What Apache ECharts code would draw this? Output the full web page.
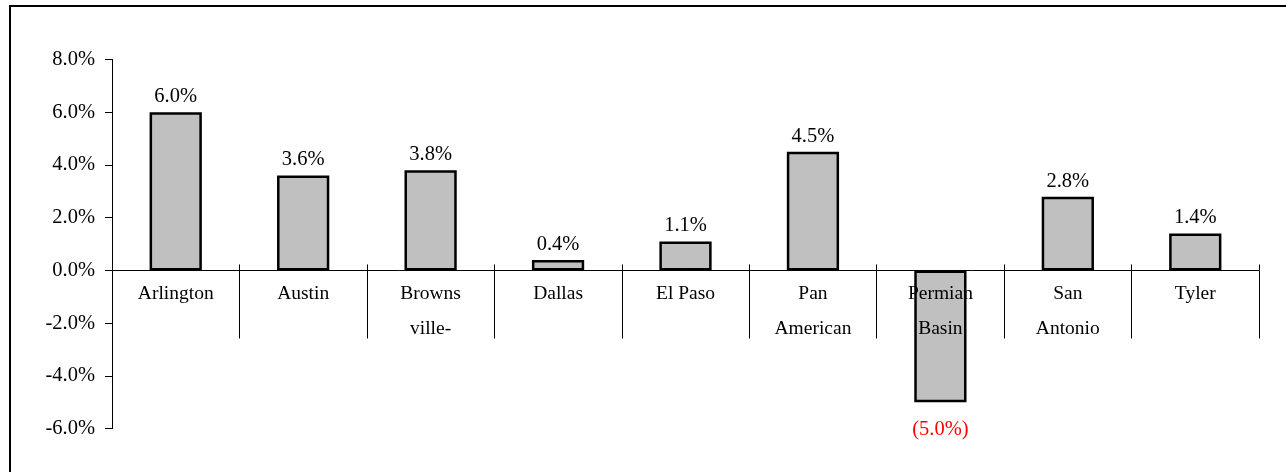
<!DOCTYPE html>
<html>
<head>
<meta charset="utf-8">
<script src="https://cdn.jsdelivr.net/npm/echarts@6/dist/echarts.min.js"></script>
<style>
  html, body { margin: 0; padding: 0; background: #fff; }
  #wrap { position: relative; width: 1286px; height: 472px; overflow: hidden; }
  #frame { position: absolute; left: 9px; top: 5px; width: 1400px; height: 600px; border: 2px solid #000; box-sizing: border-box; }
  #chart { position: absolute; left: 0; top: 0; width: 1286px; height: 472px; }
</style>
</head>
<body>
<div id="wrap">
  <div id="frame"></div>
  <div id="chart"></div>
</div>
<script>
const categories = ['Arlington', 'Austin', 'Browns\nville-', 'Dallas', 'El Paso', 'Pan\nAmerican', 'Permian\nBasin', 'San\nAntonio', 'Tyler'];
const values = [6.0, 3.6, 3.8, 0.4, 1.1, 4.5, -5.0, 2.8, 1.4];
const yTicks = { min: -6, max: 8, interval: 2 };

const FONT = 'Liberation Serif';
const chart = echarts.init(document.getElementById('chart'), null, { renderer: 'canvas' });

const fmt = v => v < 0 ? '(' + Math.abs(v).toFixed(1) + '%)' : v.toFixed(1) + '%';

const seriesData = values.map(v => v < 0
  ? { value: v, label: { position: 'bottom', color: '#FF0000', distance: 17 } }
  : v);

const G = { left: 112, right: 27, top: 59.5, height: 369.2 };
const zeroFrac = yTicks.max / (yTicks.max - yTicks.min);

chart.setOption({
  animation: false,
  backgroundColor: 'transparent',
  grid: [
    { left: G.left, right: G.right, top: G.top, height: G.height, containLabel: false, outerBoundsMode: 'none' },
    { left: G.left, right: G.right, top: G.top, height: G.height * zeroFrac, containLabel: false, outerBoundsMode: 'none' }
  ],
  xAxis: [
    { type: 'category', gridIndex: 0, data: categories, show: false },
    {
      type: 'category', gridIndex: 1, data: categories, position: 'bottom', z: 3,
      axisLine: { show: true, onZero: false, lineStyle: { color: '#000', width: 1 } },
      axisTick: { show: true, length: 68, lineStyle: { color: '#000', width: 1 } },
      axisLabel: { show: true, margin: 6, fontFamily: FONT, fontSize: 19.5, color: '#000', lineHeight: 35, interval: 0 }
    },
    {
      type: 'category', gridIndex: 1, data: categories, position: 'bottom', z: 3,
      axisLine: { show: false, onZero: false },
      axisTick: { show: true, inside: true, length: 6, lineStyle: { color: '#000', width: 1 } },
      axisLabel: { show: false }
    }
  ],
  yAxis: [
    {
      type: 'value', gridIndex: 0,
      min: yTicks.min, max: yTicks.max, interval: yTicks.interval,
      axisLine: { show: true, onZero: false, lineStyle: { color: '#000', width: 1 } },
      axisTick: { show: true, length: 7, lineStyle: { color: '#000', width: 1 } },
      splitLine: { show: false },
      axisLabel: { margin: 17, fontFamily: FONT, fontSize: 20.5, color: '#000', formatter: v => v.toFixed(1) + '%' }
    },
    { type: 'value', gridIndex: 1, min: 0, max: 1, show: false }
  ],
  series: [{
    type: 'bar',
    xAxisIndex: 0, yAxisIndex: 0,
    data: seriesData,
    barWidth: '41%',
    itemStyle: { color: '#C0C0C0', borderColor: '#000', borderWidth: 2.5 },
    label: {
      show: true, position: 'top', distance: 5,
      fontFamily: FONT, fontSize: 20.5, color: '#000',
      formatter: p => fmt(p.value)
    }
  }]
});
</script>
</body>
</html>
